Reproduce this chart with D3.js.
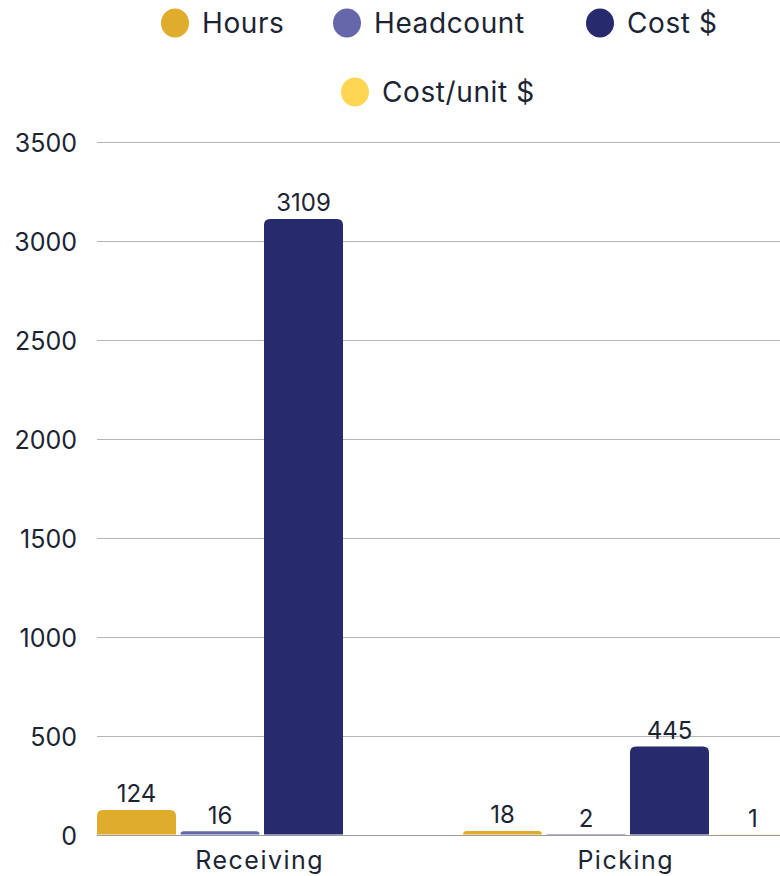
<!DOCTYPE html>
<html>
<head>
<meta charset="utf-8">
<script src="https://cdn.jsdelivr.net/npm/d3@7/dist/d3.min.js"></script>
<style>
  html, body { margin: 0; padding: 0; background: #fff; }
  svg { display: block; font-family: "Inter", "Lato", sans-serif; font-weight: 400; }
</style>
</head>
<body>
<div id="chart"></div>
<script>
// Labour summary by warehouse process
const categories = ["Receiving", "Picking"];
const seriesNames = ["Hours", "Headcount", "Cost $", "Cost/unit $"];
const seriesColors = ["#E0AC2B", "#6667AB", "#272A6C", "#FFD652"];
const hoursValues = [124, 18];
const headcountValues = [16, 2];
const costValues = [3109, 445];
const costPerUnitValues = [null, 1];
const yTicks = [0, 500, 1000, 1500, 2000, 2500, 3000, 3500];

const seriesValues = [hoursValues, headcountValues, costValues, costPerUnitValues];

const width = 780, height = 876;
const textColor = "#1c2433";

const svg = d3.select("#chart").append("svg")
  .attr("width", width).attr("height", height);

const y = d3.scaleLinear().domain([0, 3500]).range([834.5, 141.5]);

// the plot runs a little past the right edge of the view
const x0 = d3.scaleBand().domain(categories)
  .range([81, 813]).paddingInner(0.0874).paddingOuter(0.0437);

const x1 = d3.scaleBand().domain(seriesNames)
  .range([0, 329.5]).paddingInner(0.054).paddingOuter(0);

const color = d3.scaleOrdinal().domain(seriesNames).range(seriesColors);

// grid lines + y labels
const gridLeft = x0(categories[0]);
const yAxis = svg.append("g").attr("class", "y-axis");
yAxis.selectAll("line").data(yTicks).join("line")
  .attr("x1", gridLeft).attr("x2", width)
  .attr("y1", d => Math.round(y(d)) + 0.5).attr("y2", d => Math.round(y(d)) + 0.5)
  .attr("stroke", d => d === 0 ? "#9a9a9a" : "#b4b4b4").attr("stroke-width", 1);
yAxis.selectAll("text").data(yTicks).join("text")
  .attr("x", 77).attr("y", d => y(d))
  .attr("dy", "0.43em").attr("text-anchor", "end")
  .attr("font-size", 25).attr("fill", textColor)
  .text(d => d);

// rounded-top bar path
function topRounded(x, yTop, w, h, r) {
  r = Math.min(r, h, w / 2);
  return `M${x},${yTop + h}V${yTop + r}Q${x},${yTop} ${x + r},${yTop}` +
    `H${x + w - r}Q${x + w},${yTop} ${x + w},${yTop + r}V${yTop + h}Z`;
}

const rows = [];
categories.forEach((c, ci) => {
  seriesNames.forEach((s, si) => {
    const v = seriesValues[si][ci];
    if (v !== null && v !== undefined) rows.push({ category: c, series: s, value: v });
  });
});

const bars = svg.append("g").attr("class", "bars");
bars.selectAll("path").data(rows).join("path")
  .attr("d", d => {
    const bx = x0(d.category) + x1(d.series);
    const top = y(d.value);
    return topRounded(bx, top, x1.bandwidth(), y(0) - top, 6);
  })
  .attr("fill", d => color(d.series));

bars.selectAll("text").data(rows).join("text")
  .attr("x", d => x0(d.category) + x1(d.series) + x1.bandwidth() / 2)
  .attr("y", d => y(d.value) - 7.5)
  .attr("text-anchor", "middle")
  .attr("font-size", 24).attr("fill", textColor)
  .text(d => d.value);

// category labels, centred under each group of bars
const groupWidth = x1.range()[1];
svg.append("g").selectAll("text").data(categories).join("text")
  .attr("x", d => x0(d) + groupWidth / 2 - 2)
  .attr("y", 869)
  .attr("text-anchor", "middle")
  .attr("font-size", 25).attr("letter-spacing", 1.5).attr("fill", textColor)
  .text(d => d);

// legend
const legendItems = [
  { name: seriesNames[0], cx: 175, cy: 23 },
  { name: seriesNames[1], cx: 347, cy: 23 },
  { name: seriesNames[2], cx: 600, cy: 23 },
  { name: seriesNames[3], cx: 355, cy: 92 }
];
const legend = svg.append("g").attr("class", "legend");
const li = legend.selectAll("g").data(legendItems).join("g");
li.append("ellipse")
  .attr("cx", d => d.cx).attr("cy", d => d.cy)
  .attr("rx", 14).attr("ry", 14.5)
  .attr("fill", d => color(d.name));
li.append("text")
  .attr("x", d => d.cx + 27).attr("y", d => d.cy)
  .attr("dy", "0.36em").attr("font-size", 28).attr("letter-spacing", 0.6)
  .attr("fill", textColor)
  .text(d => d.name);
</script>
</body>
</html>
